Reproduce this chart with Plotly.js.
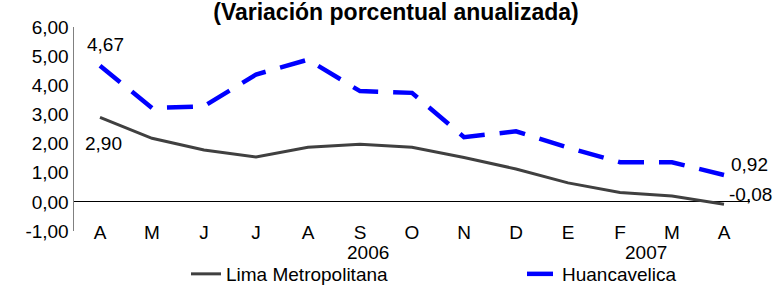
<!DOCTYPE html>
<html>
<head>
<meta charset="utf-8">
<script src="https://cdn.plot.ly/plotly-3.0.1.min.js"></script>
<style>html,body{margin:0;padding:0;background:#fff;}</style>
</head>
<body>
<div id="chart" style="width:773px;height:287px;"></div>
<script>
const months = ["A","M","J","J","A","S","O","N","D","E","F","M","A"];
const limaValues = [2.90, 2.18, 1.78, 1.54, 1.87, 1.98, 1.87, 1.52, 1.13, 0.65, 0.32, 0.20, -0.08];
const huancaValues = [4.67, 3.22, 3.28, 4.37, 4.88, 3.80, 3.74, 2.22, 2.42, 1.86, 1.36, 1.36, 0.92];
const seriesNames = ["Lima Metropolitana", "Huancavelica"];
const yTickVals = [-1, 0, 1, 2, 3, 4, 5, 6];
const yTickLabels = ["-1,00", "0,00", "1,00", "2,00", "3,00", "4,00", "5,00", "6,00"];
const yearLabels = ["2006", "2007"];
const yearPositions = [5.15, 10.5];

const idx = months.map((m, i) => i);
const fontFam = "Liberation Sans, Arial, sans-serif";

const traces = [
  {x: idx, y: limaValues, name: seriesNames[0], type: "scatter", mode: "lines",
   line: {color: "#404040", width: 3}, legend: "legend"},
  {x: idx, y: huancaValues, name: seriesNames[1], type: "scatter", mode: "lines",
   line: {color: "#0000FF", width: 4.5, dash: "26px,15px"}, legend: "legend2"}
];

function fmt(v){ return v.toFixed(2).replace(".", ","); }
const last = idx.length - 1;
const annotations = [
  {x: 0, y: huancaValues[0], text: fmt(huancaValues[0]), xshift: 5, yshift: 21},
  {x: 0, y: limaValues[0], text: fmt(limaValues[0]), xshift: 3, yshift: -26},
  {x: last, y: huancaValues[last], text: fmt(huancaValues[last]), xshift: 25, yshift: 11},
  {x: last, y: limaValues[last], text: fmt(limaValues[last]), xshift: 26, yshift: 10}
].map(a => Object.assign(a, {xref: "x", yref: "y", showarrow: false,
   font: {family: fontFam, size: 19, color: "#000"}}));
yearLabels.forEach((t, i) => annotations.push({
  x: yearPositions[i], xref: "x", y: 0, yref: "paper", yshift: -21, yanchor: "middle",
  text: t, showarrow: false, font: {family: fontFam, size: 19, color: "#000"}
}));

const legFont = {family: fontFam, size: 19, color: "#000"};
const layout = {
  width: 773, height: 287,
  margin: {l: 74, r: 23, t: 27, b: 56},
  paper_bgcolor: "#fff", plot_bgcolor: "#fff",
  separators: ",.",
  font: {family: fontFam, size: 19, color: "#000"},
  title: {text: "<b>(Variación porcentual anualizada)</b>", x: 396/773, xanchor: "center",
          xref: "container", yref: "container", y: 0.958, yanchor: "middle",
          font: {family: fontFam, size: 23, color: "#000"}},
  xaxis: {tickmode: "array", tickvals: idx, ticktext: months, range: [-0.5, 12.5],
          showgrid: false, zeroline: false, showline: false, ticks: "", automargin: false,
          ticklabelstandoff: -12, tickfont: {family: fontFam, size: 19, color: "#000"}},
  yaxis: {range: [-1, 6], tickmode: "array", tickvals: yTickVals, ticktext: yTickLabels,
          showgrid: false, automargin: false,
          zeroline: true, zerolinecolor: "#000", zerolinewidth: 1,
          showline: true, linecolor: "#808080", linewidth: 1.5, ticks: "",
          tickfont: {family: fontFam, size: 19, color: "#000"}},
  showlegend: true,
  legend: {orientation: "h", x: 186/773, xref: "container", xanchor: "left",
           y: 1 - 274/287, yref: "container", yanchor: "middle",
           font: legFont, bgcolor: "rgba(0,0,0,0)"},
  legend2: {orientation: "h", x: 522/773, xref: "container", xanchor: "left",
           y: 1 - 274/287, yref: "container", yanchor: "middle",
           font: legFont, bgcolor: "rgba(0,0,0,0)"},
  annotations: annotations
};

Plotly.newPlot("chart", traces, layout, {displayModeBar: false, staticPlot: true});
</script>
</body>
</html>
